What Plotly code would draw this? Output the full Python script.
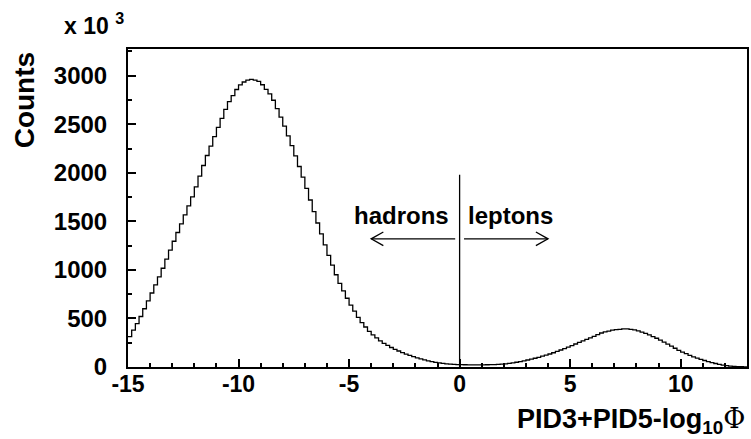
import plotly.graph_objects as go

# ---------------- data ----------------
BIN_START = -15.0
BIN_WIDTH = 1.0 / 6.0
counts = [
    313, 380, 447, 520, 600, 680, 762, 845, 928, 1017, 1110, 1203,
    1295, 1385, 1475, 1567, 1660, 1753, 1855, 1965, 2075, 2178, 2275, 2372,
    2467, 2560, 2653, 2732, 2795, 2858, 2905, 2935, 2955, 2962, 2955, 2942,
    2907, 2860, 2813, 2747, 2660, 2573, 2480, 2380, 2280, 2175, 2065, 1955,
    1840, 1720, 1600, 1483, 1370, 1257, 1150, 1050, 950, 862, 785, 708,
    638, 575, 512, 458, 412, 367, 330, 300, 270, 244, 222, 201,
    182, 165, 148, 133, 120, 107, 95, 84, 73, 64, 56, 48,
    42, 37, 32, 29, 27, 25, 24, 23, 22, 22, 22, 22,
    22, 23, 24, 25, 27, 29, 32, 37, 42, 49, 56, 64,
    72, 81, 90, 100, 111, 122, 134, 147, 161, 175, 190, 205,
    221, 237, 254, 270, 285, 300, 316, 333, 350, 362, 370, 379,
    385, 388, 392, 392, 388, 382, 372, 359, 346, 331, 313, 296,
    277, 256, 235, 214, 193, 172, 154, 137, 120, 105, 92, 79,
    67, 56, 45, 36, 28, 20, 14, 10, 7, 4, 3, 2,
]
x_tickvals = [-15, -10, -5, 0, 5, 10]
x_ticktext = ["-15", "-10", "-5", "0", "5", "10"]
y_tickvals = [0, 500, 1000, 1500, 2000, 2500, 3000]
y_ticktext = ["0", "500", "1000", "1500", "2000", "2500", "3000"]

CUT_X = 0.0
CUT_TOP = 1980
ARROW_Y = 1320
ARROW_GAP = 0.2
ARROW_END = 4.0
HEAD_DX = 0.55
HEAD_DY = 70
LABEL_Y = 1560

edges = [BIN_START + i * BIN_WIDTH for i in range(len(counts) + 1)]
ys = counts + [counts[-1]]

FONT = "Liberation Sans"

fig = go.Figure()
fig.add_trace(go.Scatter(
    x=edges, y=ys, mode="lines", line=dict(shape="hv", color="black", width=1.3),
    hoverinfo="skip", showlegend=False,
))

arrow_line = dict(color="black", width=1.3)
# cut line
fig.add_shape(type="line", x0=CUT_X, x1=CUT_X, y0=0, y1=CUT_TOP, xref="x", yref="y",
              line=dict(color="black", width=1.3))
# arrows (shaft + open head)
for sgn in (-1, 1):
    x_tail = CUT_X + sgn * ARROW_GAP
    x_head = CUT_X + sgn * ARROW_END
    fig.add_shape(type="line", x0=x_tail, x1=x_head, y0=ARROW_Y, y1=ARROW_Y,
                  xref="x", yref="y", line=arrow_line)
    xb = x_head - sgn * HEAD_DX
    fig.add_shape(type="path", xref="x", yref="y", line=arrow_line,
                  path=f"M {xb},{ARROW_Y + HEAD_DY} L {x_head},{ARROW_Y} L {xb},{ARROW_Y - HEAD_DY}")

fig.add_annotation(x=-0.4, y=LABEL_Y, xref="x", yref="y", text="hadrons", showarrow=False,
                   xanchor="right", yanchor="middle",
                   font=dict(family=FONT, size=24, color="black", weight="bold"))
fig.add_annotation(x=0.3, y=LABEL_Y, xref="x", yref="y", text="leptons", showarrow=False,
                   xanchor="left", yanchor="middle",
                   font=dict(family=FONT, size=24, color="black", weight="bold"))

# y title (rotated, at top)
PLOT_W = 751 - 128 - 2
PLOT_H = 439 - 49 - 72
fig.add_annotation(x=(25 - 128) / PLOT_W, y=(367 - 100) / PLOT_H, xref="paper", yref="paper",
                   text="Counts", textangle=-90, showarrow=False, xanchor="center", yanchor="middle",
                   font=dict(family=FONT, size=28, color="black", weight="bold"))
# exponent
fig.add_annotation(x=(62 - 128) / PLOT_W, y=(367 - 24) / PLOT_H, xref="paper", yref="paper",
                   text="x 10 <sup>3</sup>", showarrow=False, xanchor="left", yanchor="middle",
                   font=dict(family=FONT, size=23, color="black", weight="bold"))
# x title
fig.add_annotation(x=1.0, y=(367 - 420) / PLOT_H, xref="paper", yref="paper",
                   text="PID3+PID5-log<sub>10</sub><span style=\"font-family:'DejaVu Serif';font-weight:normal\">Φ</span>",
                   showarrow=False, xanchor="right", yanchor="middle",
                   font=dict(family=FONT, size=27, color="black", weight="bold"))

axis_common = dict(showgrid=False, zeroline=False, showline=True, linecolor="black", linewidth=2,
                   mirror=True, ticks="inside", tickcolor="black", tickwidth=1.5, ticklen=8)
fig.update_xaxes(range=[-15, 13], tickvals=x_tickvals, ticktext=x_ticktext,
                 tickfont=dict(family=FONT, size=23, color="black", weight="bold"),
                 minor=dict(dtick=1, tick0=0, ticks="inside", ticklen=4, tickcolor="black", tickwidth=1.5),
                 ticklabelstandoff=-5, **axis_common)
fig.update_yaxes(range=[0, 3275], tickvals=y_tickvals, ticktext=y_ticktext,
                 tickfont=dict(family=FONT, size=24, color="black", weight="bold"),
                 minor=dict(dtick=250, tick0=0, ticks="inside", ticklen=4, tickcolor="black", tickwidth=1.5),
                 ticklabelstandoff=14, **axis_common)

fig.update_layout(width=751, height=439, margin=dict(l=128, r=2, t=49, b=72),
                  paper_bgcolor="white", plot_bgcolor="white",
                  font=dict(family=FONT, color="black"))

fig.write_html("out.html")
